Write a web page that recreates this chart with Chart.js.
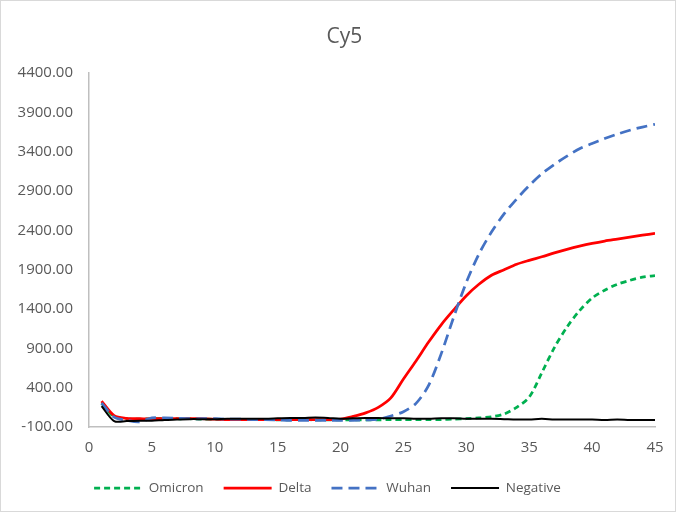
<!DOCTYPE html>
<html>
<head>
<meta charset="utf-8">
<script src="https://cdn.jsdelivr.net/npm/chart.js@4.4.1/dist/chart.umd.min.js"></script>
<style>
  html, body { margin: 0; padding: 0; background: #ffffff; }
  #wrap { width: 676px; height: 512px; }
</style>
</head>
<body>
<div id="wrap"><canvas id="myChart" width="676" height="512"></canvas></div>
<script>
// cycle numbers
var cycles = [1, 2, 3, 4, 5, 6, 7, 8, 9, 10, 11, 12, 13, 14, 15, 16, 17, 18, 19, 20, 21, 22, 23, 24, 25, 26, 27, 28, 29, 30, 31, 32, 33, 34, 35, 36, 37, 38, 39, 40, 41, 42, 43, 44, 45];

// fluorescence per series
var omicron = [200, 30, 5, 0, 5, 10, 5, 5, 0, 0,
  -5, -5, -5, -5, -10, -10, -5, -10, -10, -10,
  -10, -10, -10, -5, -5, -5, -5, -5, 0, 5,
  15, 30, 65, 150, 280, 590, 910, 1170, 1380, 1540,
  1640, 1715, 1765, 1805, 1825];
var delta = [230, 45, 10, 5, 5, 5, 5, 5, 5, 0,
  -5, -5, -5, -5, -5, -5, -5, -5, -5, 0,
  35, 80, 150, 270, 510, 740, 980, 1200, 1390, 1570,
  1715, 1830, 1900, 1970, 2020, 2065, 2115, 2160, 2200, 2235,
  2265, 2290, 2315, 2340, 2362];
var wuhan = [205, 25, -15, -35, 15, 15, 10, 5, 5, 5,
  0, 0, -5, -5, -10, -15, -15, -15, -15, -15,
  -15, -10, 0, 40, 95, 200, 430, 830, 1300, 1740,
  2100, 2380, 2610, 2800, 2970, 3120, 3240, 3345, 3440, 3505,
  3570, 3625, 3675, 3715, 3750];
var negative = [165, -25, -25, -20, -20, -10, -5, 0, 0, 0,
  5, 5, 5, 5, 10, 15, 15, 20, 15, 5,
  10, 15, 15, 10, 10, 5, 5, 10, 10, 5,
  5, 5, 0, -5, -5, 5, -5, -5, -5, -5,
  -10, -5, -10, -10, -10];

// axis ranges
var yMin = -100, yMax = 4400, yStep = 500;
var xMin = 0, xMax = 45, xStep = 5;

function toPoints(values) {
  return values.map(function (v, i) { return { x: cycles[i], y: v }; });
}

var grey = '#595959';
var font = 'Open Sans';

// white background + outer frame like the Excel chart
var frame = {
  id: 'frame',
  afterLayout: function (chart) {
    // Excel puts the title a bit right of the canvas centre
    if (chart.titleBlock) chart.titleBlock.left += 34;
  },
  beforeDraw: function (chart) {
    var c = chart.ctx;
    c.save();
    c.fillStyle = '#ffffff';
    c.fillRect(0, 0, chart.width, chart.height);
    c.strokeStyle = '#d9d9d9';
    c.lineWidth = 1;
    c.strokeRect(0.5, 0.5, chart.width - 1, chart.height - 1);
    c.restore();
  }
};

var ctx = document.getElementById('myChart').getContext('2d');
var chart = new Chart(ctx, {
  type: 'line',
  data: {
    datasets: [{
        label: 'Omicron',
        data: toPoints(omicron),
        borderColor: '#00b050',
        backgroundColor: '#00b050',
        borderWidth: 2.75,
        borderDash: [6, 4],
        order: 4
      }, {
        label: 'Delta',
        data: toPoints(delta),
        borderColor: '#ff0000',
        backgroundColor: '#ff0000',
        borderWidth: 2.75,
        order: 3
      }, {
        label: 'Wuhan',
        data: toPoints(wuhan),
        borderColor: '#4472c4',
        backgroundColor: '#4472c4',
        borderWidth: 2.75,
        borderDash: [11, 6],
        order: 2
      }, {
        label: 'Negative',
        data: toPoints(negative),
        borderColor: '#000000',
        backgroundColor: '#000000',
        borderWidth: 2,
        order: 1
      }
    ]
  },
  options: {
    responsive: false,
    animation: false,
    layout: { padding: { left: 0, right: 21, top: 0, bottom: 7.25 } },
    elements: {
      point: { radius: 0, hoverRadius: 0 },
      line: { tension: 0.3, fill: false }
    },
    plugins: {
      title: {
        display: true,
        text: 'Cy5',
        color: grey,
        font: { family: font, size: 21, weight: 'normal' },
        padding: { top: 24, bottom: 24 }
      },
      legend: {
        position: 'bottom',
        labels: {
          color: grey,
          font: { family: font, size: 13.5 },
          // zero-height box = a line sample; width 48 keeps the dashes aligned
          boxWidth: 48,
          boxHeight: 0,
          padding: 20,
          sort: function (a, b) { return a.datasetIndex - b.datasetIndex; }
        }
      },
      tooltip: { enabled: false }
    },
    scales: {
      x: {
        type: 'linear',
        min: xMin,
        max: xMax,
        grid: { display: false, drawTicks: false },
        border: { display: true, color: '#bfbfbf', width: 1.5 },
        ticks: {
          stepSize: xStep,
          color: grey,
          padding: 12,
          maxRotation: 0,
          font: { family: font, size: 15 }
        },
        afterFit: function (scale) { scale.height = 34.25; }
      },
      y: {
        min: yMin,
        max: yMax,
        grid: { display: false, drawTicks: false },
        border: { display: true, color: '#bfbfbf', width: 1.5 },
        ticks: {
          stepSize: yStep,
          color: grey,
          padding: 16,
          font: { family: font, size: 15 },
          callback: function (v) { return v.toFixed(2); }
        },
        afterFit: function (scale) { scale.width = 89; }
      }
    }
  },
  plugins: [frame]
});
</script>
</body>
</html>
